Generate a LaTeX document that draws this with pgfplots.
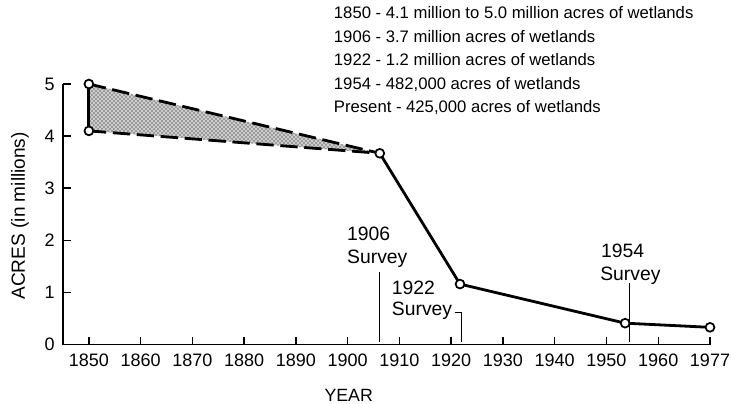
\documentclass[border=0pt]{standalone}
\usepackage{fontspec}
\setmainfont{Liberation Sans}
\usepackage{pgfplots}
\pgfplotsset{compat=1.18}
\usetikzlibrary{patterns}
\newcommand{\tf}{\fontsize{13.5}{16}\selectfont}
\begin{document}
\begin{tikzpicture}
\path[use as bounding box] (-47.25pt,-43.9pt) rectangle (501pt,258.4pt);
\begin{axis}[
  at={(0,0)}, anchor=south west,
  scale only axis, width=485.25pt, height=195.4pt,
  xmin=1845, xmax=1970, ymin=0, ymax=5,
  axis lines=left, axis line style={-, line width=1.2pt},
  xtick={1850,1860,...,1970},
  xticklabels={{\tf 1850},{\tf 1860},{\tf 1870},{\tf 1880},{\tf 1890},{\tf 1900},{\tf 1910},{\tf 1920},{\tf 1930},{\tf 1940},{\tf 1950},{\tf 1960},{\tf 1977}},
  ytick={0,1,2,3,4,5},
  yticklabels={{\tf 0},{\tf 1},{\tf 2},{\tf 3},{\tf 4},{\tf 5}},
  tick align=inside, major tick length=6pt,
  tick style={line width=1.1pt, black},
  /pgf/number format/assume math mode=true,
  x tick label style={inner sep=0pt, yshift=-6.5pt},
  y tick label style={inner sep=0pt, xshift=-6pt},
  clip=false,
]
\addplot[draw=none, fill=gray!40, forget plot] coordinates {(1850,4.1) (1850,5.0) (1906.2,3.67)} -- cycle;
\addplot[draw=none, pattern=crosshatch dots, pattern color=black, forget plot] coordinates {(1850,4.1) (1850,5.0) (1906.2,3.67)} -- cycle;
\addplot[line width=2.1pt, forget plot] coordinates {(1850,4.1) (1850,5.0)};
\addplot[line width=2.1pt, dash pattern=on 13pt off 5pt, forget plot] coordinates {(1850,5.0) (1906.2,3.67)};
\addplot[line width=2.1pt, dash pattern=on 13pt off 5pt, forget plot] coordinates {(1850,4.1) (1906.2,3.67)};
\addplot[line width=2.1pt, forget plot] coordinates {(1906.2,3.67) (1921.7,1.16) (1953.6,0.41) (1970,0.33)};
\addplot[only marks, mark=*, mark size=3.3pt, mark options={fill=white, draw=black, line width=1.3pt}, forget plot] coordinates {(1850,5.0) (1850,4.1) (1906.2,3.67) (1921.7,1.16) (1953.6,0.41) (1970,0.33)};
% survey annotations
\draw[line width=0.8pt] (axis cs:1906.2,1.397) -- (axis cs:1906.2,0.054);
\draw[line width=0.8pt] (axis cs:1920.7,0.618) -- (axis cs:1921.9,0.618) -- (axis cs:1921.9,0.054);
\draw[line width=0.8pt] (axis cs:1954.4,1.18) -- (axis cs:1954.4,0.054);
\tikzset{sv/.style={anchor=base west, inner sep=0pt, font=\fontsize{14.5}{17}\selectfont}}
\node[sv] at (axis cs:1899.86,1.987) {1906};
\node[sv] at (axis cs:1899.86,1.564) {Survey};
\node[sv] at (axis cs:1908.5,0.969) {1922};
\node[sv] at (axis cs:1908.5,0.566) {Survey};
\node[sv] at (axis cs:1948.9,1.674) {1954};
\node[sv] at (axis cs:1948.75,1.238) {Survey};
% legend text
\tikzset{lg/.style={anchor=base west, inner sep=0pt, font=\fontsize{12.5}{15}\selectfont}}
\node[lg] at (axis cs:1897.3,6.257) {1850 - 4.1 million to 5.0 million acres of wetlands};
\node[lg] at (axis cs:1897.3,5.806) {1906 - 3.7 million acres of wetlands};
\node[lg] at (axis cs:1897.3,5.355) {1922 - 1.2 million acres of wetlands};
\node[lg] at (axis cs:1897.3,4.904) {1954 - 482,000 acres of wetlands};
\node[lg] at (axis cs:1897.3,4.453) {Present - 425,000 acres of wetlands};
% axis labels
\node[anchor=base, inner sep=0pt, font=\fontsize{13.3}{16}\selectfont] at ([yshift=-42.5pt]axis cs:1900.2,0) {YEAR};
\node[anchor=base, inner sep=0pt, rotate=90, font=\fontsize{14.3}{17}\selectfont] at ([xshift=-28.5pt]axis cs:1845,2.47) {ACRES (in millions)};
\end{axis}
\end{tikzpicture}
\end{document}
